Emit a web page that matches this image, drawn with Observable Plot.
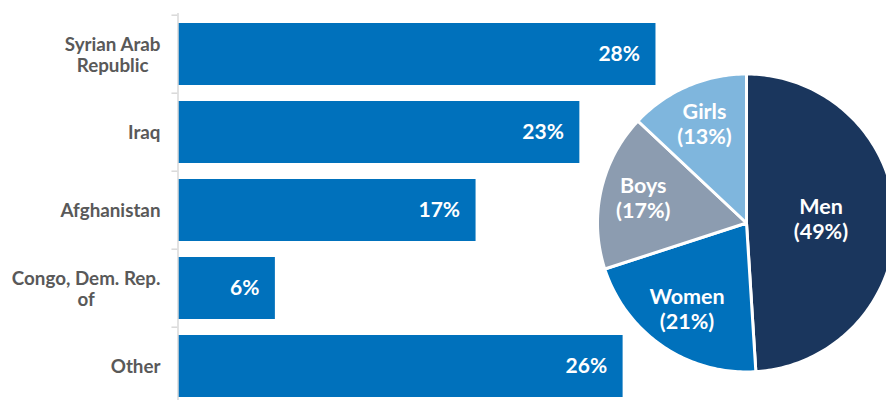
<!DOCTYPE html>
<html><head><meta charset="utf-8">
<script src="https://cdn.jsdelivr.net/npm/d3@7"></script>
<script src="https://cdn.jsdelivr.net/npm/@observablehq/plot@0.6"></script>
<style>
body{margin:0;background:#fff;}
#wrap{position:relative;width:886px;height:400px;overflow:hidden;font-family:Lato,sans-serif;}
#wrap svg{position:absolute;left:0;top:0;overflow:hidden;}
</style></head><body><div id="wrap"></div>
<script>
// ---- data ----
const countries = ["Syrian Arab\nRepublic", "Iraq", "Afghanistan", "Congo, Dem. Rep.\nof", "Other"];
const shares = [27.6, 23.2, 17.2, 5.6, 25.7];
const shareLabels = ["28%", "23%", "17%", "6%", "26%"];
const groups = ["Men", "Women", "Boys", "Girls"];
const groupShares = [49, 21, 17, 13];
const groupColors = ["#1a365d", "#0071bc", "#8c9cb0", "#7fb6dd"];

const bars = countries.map((c, i) => ({country: c, share: shares[i], label: shareLabels[i]}));
const W = 886, H = 400;
const yRange = [13, 406];
const step = (yRange[1] - yRange[0]) / countries.length;
const wrap = document.getElementById("wrap");

const barPlot = Plot.plot({
  width: W, height: H,
  marginLeft: 178, marginRight: 0, marginTop: 13, marginBottom: 0,
  style: {fontFamily: "Lato, sans-serif", background: "transparent"},
  x: {domain: [0, 30], range: [178, 178 + 30 * 17.3], axis: null},
  y: {domain: countries, range: yRange, paddingInner: 0.21, paddingOuter: 0.105, axis: null},
  marks: [
    Plot.barX(bars, {x: "share", y: "country", fill: "#0071bc"}),
    Plot.ruleX([0], {stroke: "#d9d9d9", strokeWidth: 1.5, dx: -0.5}),
    Plot.ruleY(countries, {y: d => d, x1: -0.35, x2: 0, dy: -step / 2, dx: -0.5, stroke: "#d9d9d9", strokeWidth: 1.5}),
    Plot.text(bars, {y: "country", text: "country", frameAnchor: "left", dx: -18, textAnchor: "end",
      fill: "#595959", fontSize: 18.8, fontWeight: "bold", lineHeight: 1.12}),
    Plot.text(bars, {x: "share", y: "country", text: "label", textAnchor: "end", dx: -16,
      fill: "white", fontSize: 21, fontWeight: "bold"})
  ]
});
wrap.appendChild(barPlot);

// center multi-line labels within their right-aligned block
barPlot.querySelectorAll("text").forEach(t => {
  const ts = Array.from(t.querySelectorAll("tspan"));
  if (ts.length > 1) {
    const maxW = d3.max(ts, s => s.getComputedTextLength());
    t.setAttribute("text-anchor", "middle");
    t.style.textAnchor = "middle";
    ts.forEach(s => s.setAttribute("x", -maxW / 2));
  }
});

// ---- pie ----
const total = d3.sum(groupShares);
const pts = [], lbls = [];
let acc = 0;
groups.forEach((g, i) => {
  const a0 = acc / total * 2 * Math.PI;
  acc += groupShares[i];
  const a1 = acc / total * 2 * Math.PI;
  pts.push({g, x: 0, y: 0});
  const n = Math.ceil((a1 - a0) / (Math.PI / 180));
  for (let k = 0; k <= n; k++) {
    const a = a0 + (a1 - a0) * k / n;
    pts.push({g, x: Math.sin(a), y: Math.cos(a)});
  }
  pts.push({g, x: 0, y: 0});
  const am = (a0 + a1) / 2;
  const rr = groupShares[i] / total > 0.4 ? 0.5 : 0.71;
  lbls.push({g, x: rr * Math.sin(am), y: rr * Math.cos(am), text: `${g}\n(${groupShares[i]}%)`});
});
const cx = 746, cy = 222.5, R = 149;
const piePlot = Plot.plot({
  width: W, height: H, margin: 0,
  style: {fontFamily: "Lato, sans-serif", background: "transparent"},
  x: {domain: [-1, 1], range: [cx - R, cx + R], axis: null},
  y: {domain: [-1, 1], range: [cy + R, cy - R], axis: null},
  color: {domain: groups, range: groupColors},
  marks: [
    Plot.line(pts, {x: "x", y: "y", z: "g", fill: "g", stroke: "white", strokeWidth: 3, strokeLinejoin: "round"}),
    Plot.text(lbls, {x: "x", y: "y", text: "text", fill: "white", fontSize: 21.5, fontWeight: "bold", lineHeight: 1.16, dy: -2})
  ]
});
piePlot.style.pointerEvents = "none";
wrap.appendChild(piePlot);
</script>
</body></html>
